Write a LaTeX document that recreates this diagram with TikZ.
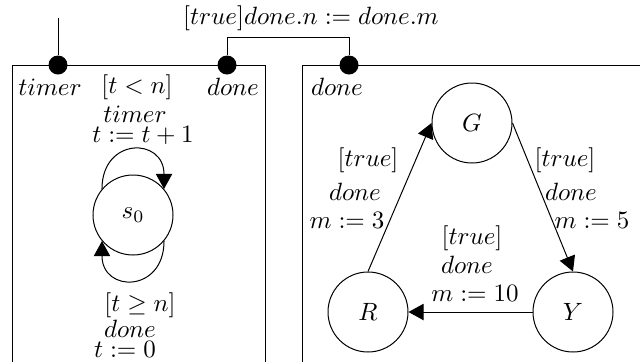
\documentclass[tikz,border=0pt]{standalone}
\usetikzlibrary{positioning,arrows.meta}

\begin{document}
\begin{tikzpicture}[
    x=0.4pt, y=-0.4pt,
    loc/.style={draw, circle, minimum size=32pt, inner sep=0pt},
    port/.style={circle, fill, inner sep=0pt, minimum size=7.6pt},
    trans/.style={-{Triangle[length=6pt,width=6.5pt]}},
    every node/.style={font=\normalsize}
]
\useasboundingbox (0,0) rectangle (640,361);
\clip (0,0) rectangle (640,361);

% component boxes
\draw (12,400) -- (12,65) -- (265,65) -- (265,400);
\draw (302,400) -- (302,65) -- (660,65);

% ports
\node[port] (ptimer) at (58,65) {};
\node[port] (pdone) at (227,65) {};
\node[port] (qdone) at (349,65) {};
\node (ltimer) at (50,87) {$timer$};
\node (lpdone) at (233,87) {$done$};
\node (lqdone) at (337,87) {$done$};

% connections between ports
\coordinate (timertop) at (58,18);
\draw (timertop) -- (ptimer);
\draw (pdone) -- ++(0,-28) -| (qdone);
\node (sync) at (311,18) {$[true]done.n := done.m$};

% timer component
\node[loc] (s0) at (133,215) {$s_0$};
\draw[trans] (s0.140) .. controls +(0,-52) and +(0,-52) .. (s0.40);
\draw[trans] (s0.-40) .. controls +(0,52) and +(0,52) .. (s0.-140);
\node (tg1) at (137,87) {$[t < n]$};
\node (ts1) at (135,114) {$timer$};
\node (ta1) at (143,135) {$t := t + 1$};
\node (tg2) at (140,305) {$[t \geq n]$};
\node (ts2) at (130,329) {$done$};
\node (ta2) at (125,349) {$t := 0$};

% traffic light component
\node[loc] (G) at (472,123) {$G$};
\node[loc] (R) at (368,312) {$R$};
\node[loc] (Y) at (573,312) {$Y$};
\draw[trans] (R.north) -- (G.west);
\draw[trans] (G.east) -- (Y.north);
\draw[trans] (Y.west) -- (R.east);
\node (rg1) at (368,160) {$[true]$};
\node (rg2) at (355,192) {$done$};
\node (rg3) at (347,220) {$m := 3$};
\node (gy1) at (565,160) {$[true]$};
\node (gy2) at (571,192) {$done$};
\node (gy3) at (592,220) {$m := 5$};
\node (yr1) at (472,238) {$[true]$};
\node (yr2) at (467,265) {$done$};
\node (yr3) at (475,293) {$m := 10$};
\end{tikzpicture}
\end{document}
